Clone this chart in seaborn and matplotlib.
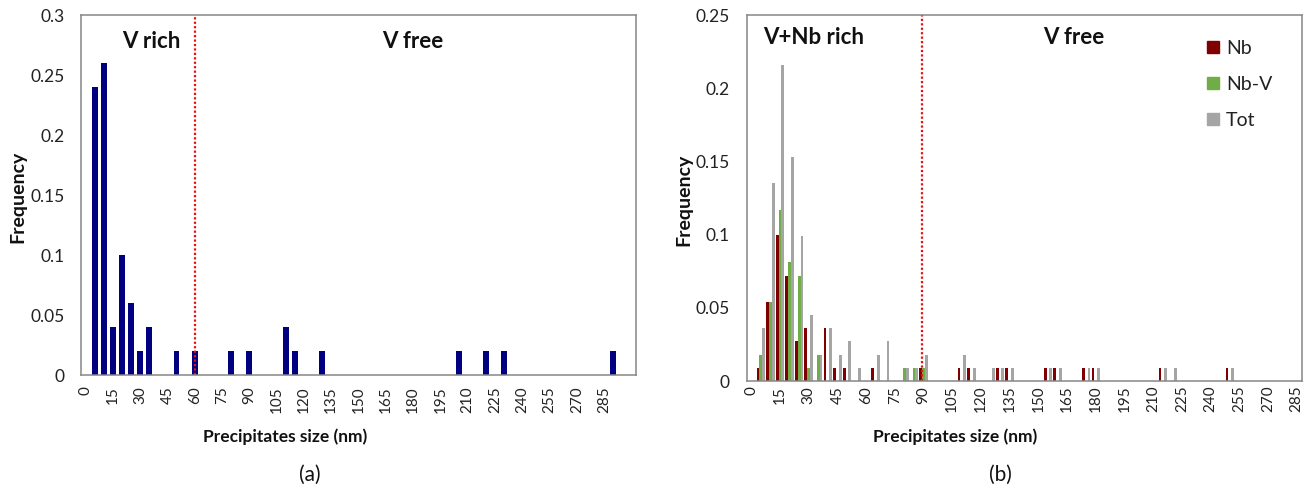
import numpy as np
import pandas as pd
import matplotlib
matplotlib.use("Agg")
import matplotlib.pyplot as plt
from matplotlib.lines import Line2D
import seaborn as sns

# ---------------- data ----------------
# panel (a): size classes (nm) every 5 nm, non-zero frequencies
a_categories = list(range(0, 300, 5))
a_sizes = [5, 10, 15, 20, 25, 30, 35, 50, 60, 80, 90, 110, 115, 130, 205, 220, 230, 290]
a_freq = [0.24, 0.26, 0.04, 0.10, 0.06, 0.02, 0.04, 0.02, 0.02, 0.02, 0.02, 0.04, 0.02, 0.02, 0.02, 0.02, 0.02, 0.02]
a_tick_labels = list(range(0, 300, 15))
a_threshold_nm = 60

# panel (b)
b_categories = list(range(0, 290, 5))
b_nb_sizes = [5, 10, 15, 20, 25, 30, 40, 45, 50, 65, 90, 110, 115, 130, 135, 155, 160, 175, 180, 215, 250]
b_nb_freq = [0.009, 0.054, 0.100, 0.072, 0.027, 0.036, 0.036, 0.009, 0.009, 0.009, 0.009, 0.009, 0.009,
             0.009, 0.009, 0.009, 0.009, 0.009, 0.009, 0.009, 0.009]
b_nbv_sizes = [5, 10, 15, 20, 25, 30, 35, 80, 85, 90]
b_nbv_freq = [0.018, 0.054, 0.117, 0.081, 0.072, 0.009, 0.018, 0.009, 0.009, 0.009]
b_tot_sizes = [5, 10, 15, 20, 25, 30, 35, 40, 45, 50, 55, 65, 70, 80, 85, 90, 110, 115, 125, 130, 135,
               155, 160, 175, 180, 215, 220, 250]
b_tot_freq = [0.036, 0.135, 0.216, 0.153, 0.099, 0.045, 0.018, 0.036, 0.018, 0.027, 0.009, 0.018, 0.027,
              0.009, 0.009, 0.018, 0.018, 0.009, 0.009, 0.009, 0.009, 0.009, 0.009, 0.009, 0.009,
              0.009, 0.009, 0.009]
b_tick_labels = list(range(0, 290, 15))
b_threshold_nm = 89
series_names = ["Nb", "Nb-V", "Tot"]
series_colors = ["#7F0000", "#70AD47", "#A5A5A5"]

# ---------------- style ----------------
sns.set_theme(style="white")
plt.rcParams['font.family'] = ['Lato', 'DejaVu Sans']
SPINE = "#868686"

W, H = 1313, 492
fig = plt.figure(figsize=(W / 100, H / 100), dpi=100)
fig.patch.set_facecolor("white")


def px_axes(l, t, r, b):
    return fig.add_axes([l / W, 1 - b / H, (r - l) / W, (b - t) / H])


def fx(x):
    return x / W


def fy(y):
    return 1 - y / H


axa = px_axes(81, 15, 636, 375)
axb = px_axes(746.5, 15, 1301.5, 381)

# ---- panel a ----
amap = dict(zip(a_sizes, a_freq))
df_a = pd.DataFrame({"size": [str(c) for c in a_categories],
                     "freq": [amap.get(c, 0.0) for c in a_categories]})
sns.barplot(data=df_a, x="size", y="freq", order=[str(c) for c in a_categories],
            color="#000080", saturation=1, width=0.65, linewidth=0, errorbar=None, ax=axa)
axa.set_xlim(-0.5, len(a_categories) + 0.5)
axa.set_ylim(0, 0.3)
step_a = a_categories[1] - a_categories[0]
axa.axvline(a_threshold_nm / step_a, color="#E81010", linestyle=(0, (1, 1)), linewidth=1.6)

# ---- panel b ----
rows = []
for name, sz, fr in [("Nb", b_nb_sizes, b_nb_freq), ("Nb-V", b_nbv_sizes, b_nbv_freq),
                     ("Tot", b_tot_sizes, b_tot_freq)]:
    m = dict(zip(sz, fr))
    for c in b_categories:
        rows.append({"size": str(c), "freq": m.get(c, 0.0), "series": name})
df_b = pd.DataFrame(rows)
sns.barplot(data=df_b, x="size", y="freq", hue="series", order=[str(c) for c in b_categories],
            hue_order=series_names, palette=series_colors, saturation=1, width=0.88, gap=0,
            linewidth=0, errorbar=None, legend=False, ax=axb)
axb.set_xlim(-0.5, len(b_categories) - 0.5)
axb.set_ylim(0, 0.25)
step_b = b_categories[1] - b_categories[0]
axb.axvline(b_threshold_nm / step_b, color="#E81010", linestyle=(0, (1, 1)), linewidth=1.6)

# ---- axes styling ----
for ax, ticks, cats, yt, ylabels, xpad in [
        (axa, a_tick_labels, a_categories, [0, 0.05, 0.1, 0.15, 0.2, 0.25, 0.3],
         ["0", "0.05", "0.1", "0.15", "0.2", "0.25", "0.3"], 8),
        (axb, b_tick_labels, b_categories, [0, 0.05, 0.1, 0.15, 0.2, 0.25],
         ["0", "0.05", "0.1", "0.15", "0.2", "0.25"], 3.5)]:
    ax.set_xticks([cats.index(t) for t in ticks])
    ax.set_xticklabels([str(t) for t in ticks], rotation=90, fontsize=11, color="#222222")
    ax.set_yticks(yt)
    ax.set_yticklabels(ylabels, fontsize=12.5, color="#222222")
    ax.tick_params(axis="x", length=0, pad=xpad)
    ax.tick_params(axis="y", length=0, pad=12)
    ax.set_xlabel("")
    ax.set_ylabel("")
    ax.grid(False)
    for s in ax.spines.values():
        s.set_visible(True)
        s.set_color(SPINE)
        s.set_linewidth(1.1)

# ---- texts ----
fig.text(fx(18), fy(197), "Frequency", rotation=90, ha="center", va="center",
         fontsize=14, fontweight="bold", color="#111111")
fig.text(fx(684), fy(200), "Frequency", rotation=90, ha="center", va="center",
         fontsize=14, fontweight="bold", color="#111111")
fig.text(fx(285), fy(437), "Precipitates size (nm)", ha="center", va="center",
         fontsize=12.5, fontweight="bold", color="#111111")
fig.text(fx(955), fy(437), "Precipitates size (nm)", ha="center", va="center",
         fontsize=12.5, fontweight="bold", color="#111111")
fig.text(fx(310), fy(475), "(a)", ha="center", va="center", fontsize=15, color="#111111")
fig.text(fx(1000), fy(475), "(b)", ha="center", va="center", fontsize=15, color="#111111")

fig.text(fx(151), fy(41), "V rich", ha="center", va="center", fontsize=16, fontweight="bold", color="#111111")
fig.text(fx(413), fy(41), "V free", ha="center", va="center", fontsize=16, fontweight="bold", color="#111111")
fig.text(fx(814), fy(38), "V+Nb rich", ha="center", va="center", fontsize=16, fontweight="bold", color="#111111")
fig.text(fx(1074), fy(37), "V free", ha="center", va="center", fontsize=16, fontweight="bold", color="#111111")

handles = [Line2D([], [], marker="s", linestyle="", markersize=8, color=c) for c in series_colors]
fig.legend(handles, series_names, loc="upper left", bbox_to_anchor=(fx(1196), fy(30)),
           frameon=False, fontsize=14, borderpad=0, handlelength=0.7, handletextpad=0.35,
           labelspacing=0.98, labelcolor="#222222")

fig.savefig("out.png", dpi=100, facecolor="white")
